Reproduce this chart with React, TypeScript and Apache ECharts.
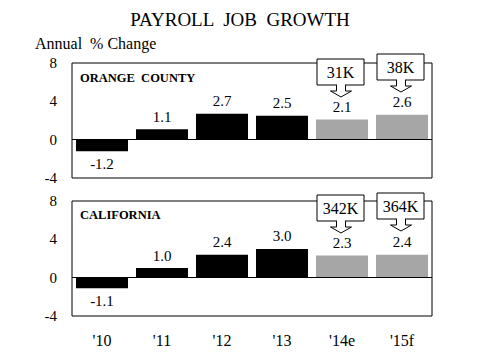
import React, { useEffect, useRef } from "react";
import * as echarts from "echarts";

const categories = ["'10", "'11", "'12", "'13", "'14e", "'15f"];
const orangeCounty = [-1.2, 1.1, 2.7, 2.5, 2.1, 2.6];
const california = [-1.1, 1.0, 2.4, 3.0, 2.3, 2.4];
const forecastFlags = [false, false, false, false, true, true];
const ocCallouts = ["31K", "38K"];
const caCallouts = ["342K", "364K"];
const yTicks = { min: -4, max: 8, interval: 4 };

const FONT = "Liberation Serif, serif";

function barData(values: number[]) {
  return values.map((v, i) => ({
    value: v,
    itemStyle: { color: forecastFlags[i] ? "#a6a6a6" : "#000000" },
    label: { position: v < 0 ? "bottom" : "top" },
  }));
}

function callout(text: string, x: number, y: number) {
  const w = 47;
  const h = 26;
  const cx = x + w / 2 + 0.5;
  const by = y + h;
  return {
    type: "group",
    z: 100,
    children: [
      {
        type: "polygon",
        z: 100,
        shape: {
          points: [
            [cx - 4.5, by - 1],
            [cx - 4.5, by + 6],
            [cx - 10.5, by + 6],
            [cx, by + 12],
            [cx + 10.5, by + 6],
            [cx + 4.5, by + 6],
            [cx + 4.5, by - 1],
          ],
        },
        style: { fill: "#ffffff", stroke: "#000000", lineWidth: 1 },
      },
      {
        type: "rect",
        z: 101,
        shape: { x, y, width: w, height: h },
        style: { fill: "#ffffff", stroke: "#000000", lineWidth: 1 },
      },
      {
        type: "rect",
        z: 102,
        shape: { x: cx - 4, y: by - 1, width: 8, height: 2 },
        style: { fill: "#ffffff", lineWidth: 0 },
      },
      {
        type: "text",
        z: 103,
        style: {
          text,
          x: x + w / 2,
          y: y + h / 2 + 0.5,
          textAlign: "center",
          textVerticalAlign: "middle",
          fontSize: 16,
          fontFamily: FONT,
          fill: "#000000",
        },
      },
    ],
  };
}

export default function App() {
  const ref = useRef<HTMLDivElement>(null);
  useEffect(() => {
    if (!ref.current) return;
    const chart = echarts.init(ref.current, undefined, { renderer: "svg" });
    const gridCommon = {
      left: 72,
      width: 360,
      height: 115,
      show: true,
      borderColor: "#000000",
      borderWidth: 1,
      backgroundColor: "transparent",
    };
    const yAxisCommon = {
      type: "value",
      min: yTicks.min,
      max: yTicks.max,
      interval: yTicks.interval,
      axisLine: { show: false },
      axisTick: { show: false },
      splitLine: { show: false },
      axisLabel: { margin: 15, fontSize: 15, fontFamily: FONT, color: "#000000" },
    };
    const seriesCommon = {
      type: "bar",
      barCategoryGap: "13.3%",
      label: {
        show: true,
        distance: 5,
        fontSize: 15,
        fontFamily: FONT,
        color: "#000000",
        formatter: (p: any) => Number(p.value).toFixed(1),
      },
      markLine: {
        silent: true,
        symbol: ["none", "none"],
        label: { show: false },
        lineStyle: { color: "#000000", type: "solid", width: 1 },
        data: [{ yAxis: 0 }],
      },
    };
    chart.setOption({
      animation: false,
      backgroundColor: "#ffffff",
      textStyle: { fontFamily: FONT },
      grid: [
        { ...gridCommon, top: 63 },
        { ...gridCommon, top: 201 },
      ],
      xAxis: [
        {
          type: "category",
          gridIndex: 0,
          data: categories,
          axisLine: { show: false },
          axisTick: { show: false },
          axisLabel: { show: false },
        },
        {
          type: "category",
          gridIndex: 1,
          data: categories,
          axisLine: { show: false },
          axisTick: { show: false },
          axisLabel: { margin: 16, fontSize: 16, fontFamily: FONT, color: "#000000" },
        },
      ],
      yAxis: [
        { ...yAxisCommon, gridIndex: 0 },
        { ...yAxisCommon, gridIndex: 1 },
      ],
      series: [
        { ...seriesCommon, name: "Orange County", xAxisIndex: 0, yAxisIndex: 0, data: barData(orangeCounty) },
        { ...seriesCommon, name: "California", xAxisIndex: 1, yAxisIndex: 1, data: barData(california) },
      ],
      graphic: [
        {
          type: "text",
          style: {
            text: "PAYROLL  JOB  GROWTH",
            x: 240,
            y: 19,
            textAlign: "center",
            textVerticalAlign: "middle",
            fontSize: 19,
            fontFamily: FONT,
            fill: "#000000",
          },
        },
        {
          type: "text",
          style: {
            text: "Annual  % Change",
            x: 35,
            y: 43,
            textAlign: "left",
            textVerticalAlign: "middle",
            fontSize: 16,
            fontFamily: FONT,
            fill: "#000000",
          },
        },
        {
          type: "text",
          style: {
            text: "ORANGE  COUNTY",
            x: 80,
            y: 78,
            textAlign: "left",
            textVerticalAlign: "middle",
            fontSize: 12.5,
            fontWeight: "bold",
            fontFamily: FONT,
            fill: "#000000",
          },
        },
        {
          type: "text",
          style: {
            text: "CALIFORNIA",
            x: 80,
            y: 215,
            textAlign: "left",
            textVerticalAlign: "middle",
            fontSize: 12.5,
            fontWeight: "bold",
            fontFamily: FONT,
            fill: "#000000",
          },
        },
        callout(ocCallouts[0], 317, 59),
        callout(ocCallouts[1], 377, 54),
        callout(caCallouts[0], 317, 195),
        callout(caCallouts[1], 377, 193),
      ],
    });
    return () => chart.dispose();
  }, []);
  return (
    <div
      ref={ref}
      style={{ position: "absolute", left: 0, top: 0, width: 480, height: 360 }}
    />
  );
}
